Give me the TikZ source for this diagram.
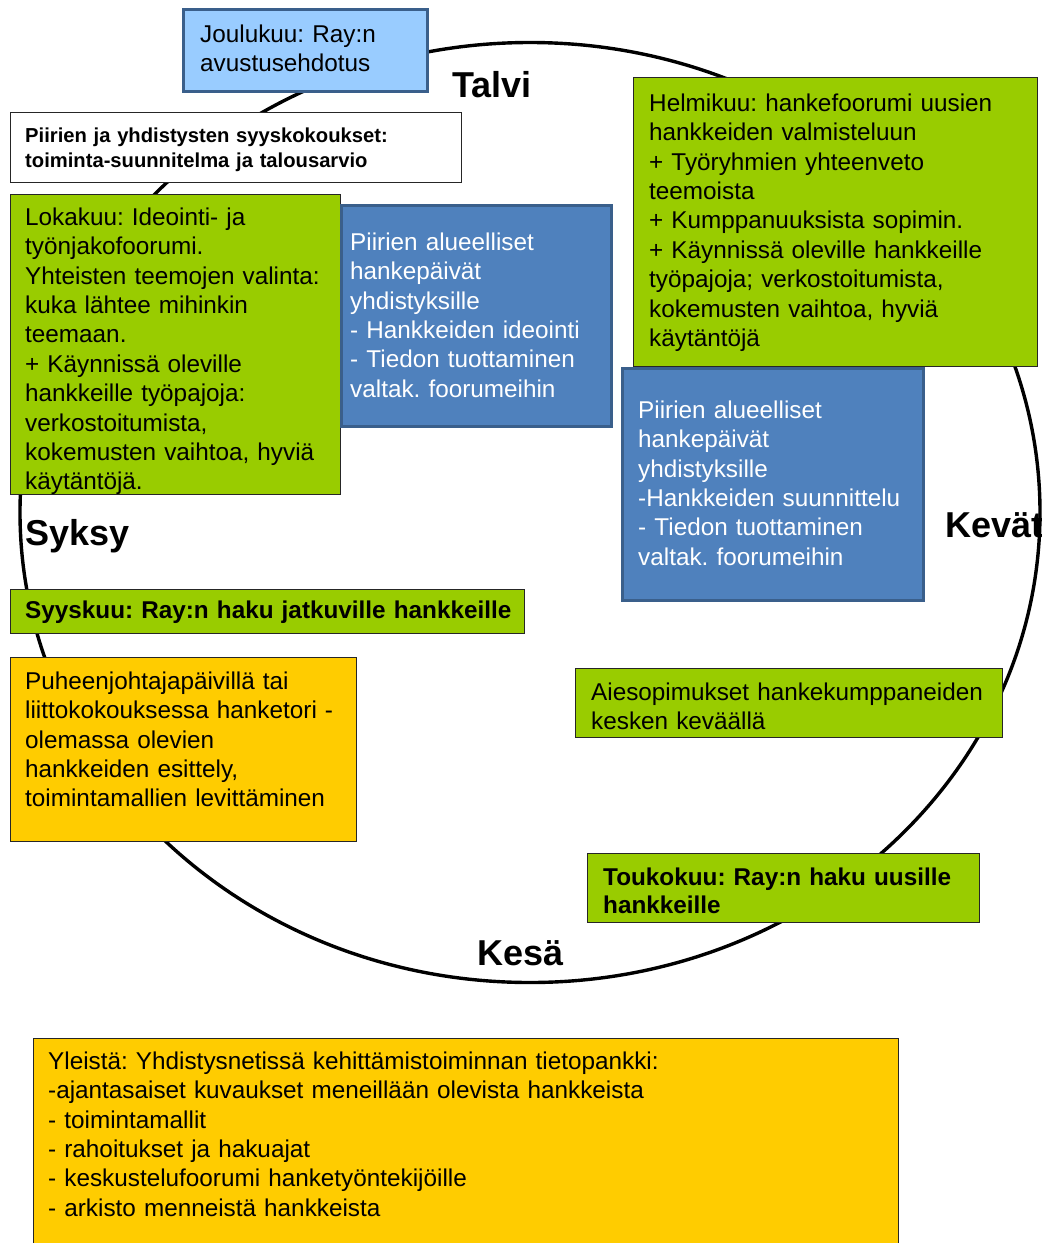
\documentclass[tikz,border=0pt]{standalone}
\usepackage{fontspec}
\setmainfont{Liberation Sans}
\frenchspacing
\definecolor{grn}{HTML}{99CC00}
\definecolor{org}{HTML}{FFCC00}
\definecolor{blu}{HTML}{4F81BD}
\definecolor{lblu}{HTML}{99CCFF}
\definecolor{bbord}{HTML}{3A5F8B}
\newcommand\fst{\rule{0pt}{20pt}}
\tikzset{
  box/.style={draw=black!85, line width=1.3pt, inner sep=0pt, anchor=north west},
  gbox/.style={box, fill=grn},
  obox/.style={box, fill=org},
  wbox/.style={box, fill=white},
  bbox/.style={draw=bbord, line width=3pt, fill=blu, inner sep=0pt, anchor=north west},
  lbbox/.style={bbox, fill=lblu},
  txt/.style={anchor=north west, inner sep=0pt, align=left, text width=#1,
    font=\fontsize{24.3}{29.4}\selectfont\frenchspacing},
  season/.style={anchor=base west, inner sep=0pt, font=\fontsize{36}{40}\selectfont\bfseries},
}
\begin{document}
\begin{tikzpicture}[x=1pt,y=-1pt]
\useasboundingbox (0,0) rectangle (1042,1243);
\clip (0,0) rectangle (1042,1243);
\fill[white] (0,0) rectangle (1042,1243);
% season circle
\draw[line width=3.4pt] (530,512.5) ellipse [x radius=510pt, y radius=470pt];
% boxes
\node[lbbox, minimum width=244pt, minimum height=82pt] (jb) at (182,8) {};
\node[wbox, minimum width=451pt, minimum height=70pt] (sb) at (10,112) {};
\node[gbox, minimum width=330pt, minimum height=300pt] (lb) at (10,194) {};
\node[bbox, minimum width=270pt, minimum height=221pt] (pb1) at (340,204) {};
\node[gbox, minimum width=404pt, minimum height=289pt] (hb) at (633,77) {};
\node[bbox, minimum width=301pt, minimum height=232pt] (pb2) at (621,367) {};
\node[gbox, minimum width=514pt, minimum height=44pt] (syb) at (10,589) {};
\node[obox, minimum width=346pt, minimum height=184pt] (pjb) at (10,657) {};
\node[gbox, minimum width=427pt, minimum height=69pt] (ab) at (575,668) {};
\node[gbox, minimum width=392pt, minimum height=69pt] (tb) at (587,853) {};
\node[obox, minimum width=865pt, minimum height=240pt] (yb) at (33,1038) {};
% texts
\node[txt=230pt] (jt) at (200,22) {\fst Joulukuu: Ray:n\\avustusehdotus};
\node[txt=440pt, font=\fontsize{20.2}{25.2}\selectfont\bfseries\frenchspacing] (st) at (25,122)
  {\fst Piirien ja yhdistysten syyskokoukset:\\toiminta-suunnitelma ja talousarvio};
\node[txt=320pt] (lt) at (25,205) {\fst Lokakuu: Ideointi- ja\\työnjakofoorumi.\\Yhteisten teemojen valinta:\\kuka lähtee mihinkin\\teemaan.\\+ Käynnissä oleville\\hankkeille työpajoja:\\verkostoitumista,\\kokemusten vaihtoa, hyviä\\käytäntöjä.};
\node[txt=260pt, text=white] (p1t) at (350,230) {\fst Piirien alueelliset\\hankepäivät\\yhdistyksille\\- Hankkeiden ideointi\\- Tiedon tuottaminen\\valtak. foorumeihin};
\node[txt=390pt] (ht) at (649,91) {\fst Helmikuu: hankefoorumi uusien\\hankkeiden valmisteluun\\+ Työryhmien yhteenveto\\teemoista\\+ Kumppanuuksista sopimin.\\+ Käynnissä oleville hankkeille\\työpajoja; verkostoitumista,\\kokemusten vaihtoa, hyviä\\käytäntöjä};
\node[txt=290pt, text=white] (p2t) at (638,398) {\fst Piirien alueelliset\\hankepäivät\\yhdistyksille\\-Hankkeiden suunnittelu\\- Tiedon tuottaminen\\valtak. foorumeihin};
\node[txt=500pt, font=\fontsize{24.3}{29.4}\selectfont\bfseries\frenchspacing] (syt) at (25,598) {\fst Syyskuu: Ray:n haku jatkuville hankkeille};
\node[txt=330pt] (pjt) at (25,669) {\fst Puheenjohtajapäivillä tai\\liittokokouksessa hanketori -\\olemassa olevien\\hankkeiden esittely,\\toimintamallien levittäminen};
\node[txt=410pt] (at) at (591,680) {\fst Aiesopimukset hankekumppaneiden\\kesken keväällä};
\node[txt=380pt, font=\fontsize{24.3}{28.3}\selectfont\bfseries\frenchspacing] (tt) at (603,865) {\fst Toukokuu: Ray:n haku uusille\\hankkeille};
\node[txt=840pt] (yt) at (48,1049) {\fst Yleistä: Yhdistysnetissä kehittämistoiminnan tietopankki:\\-ajantasaiset kuvaukset meneillään olevista hankkeista\\- toimintamallit\\- rahoitukset ja hakuajat\\- keskustelufoorumi hanketyöntekijöille\\- arkisto menneistä hankkeista};
% seasons
\node[season] (talvi) at (452,97) {Talvi};
\node[season] (kevat) at (945,537) {Kevät};
\node[season] (syksy) at (25,545) {Syksy};
\node[season] (kesa) at (477,965) {Kesä};
\end{tikzpicture}
\end{document}
